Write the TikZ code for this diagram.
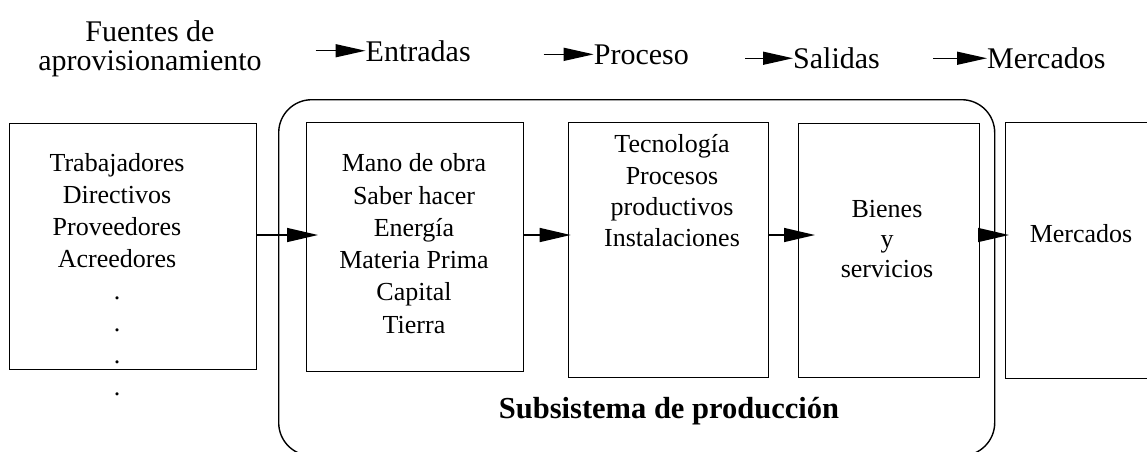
\documentclass[tikz,border=0pt]{standalone}
\usepackage{fontspec}
\setmainfont{Liberation Serif}
\usetikzlibrary{arrows.meta,calc}
\begin{document}
\begin{tikzpicture}[x=1pt,y=-1pt,
  boxsty/.style={draw,line width=1.4pt,inner sep=0pt,anchor=north west},
  txt/.style={font=\fontsize{26}{32}\selectfont,align=center,inner sep=0pt,anchor=base},
  head/.style={font=\fontsize{30}{29}\selectfont,inner sep=0pt,anchor=base west},
  arr/.style={line width=1.4pt,-{Triangle[length=31pt,width=14pt]}},
  harr/.style={line width=1.4pt,-{Triangle[length=30pt,width=13pt]}}]
\useasboundingbox (0,0) rectangle (1147,451);

% header
\node[font=\fontsize{30}{29}\selectfont,align=center,inner sep=0pt,anchor=base] (fu) at (150,70.3) {Fuentes de\\aprovisionamiento};
\node[head] (en) at (365.5,61) {Entradas};
\node[head] (pr) at (593.7,64) {Proceso};
\node[head] (sa) at (793,68.5) {Salidas};
\node[head] (me) at (987,68.5) {Mercados};
\draw[harr] ([xshift=-50pt]en.west) -- (en.west);
\draw[harr] ([xshift=-50pt]pr.west) -- (pr.west);
\draw[harr] ([xshift=-48pt]sa.west) -- (sa.west);
\draw[harr] ([xshift=-54pt]me.west) -- (me.west);

% subsystem frame (its bottom edge lies just below the picture)
\node[boxsty,rounded corners=33pt,minimum width=716pt,minimum height=356pt] (sub) at (278,99) {};
\node[font=\bfseries\fontsize{30.5}{36}\selectfont,inner sep=0pt,anchor=base] (subl) at (669,418) {Subsistema de producción};

% boxes
\node[boxsty,minimum width=247pt,minimum height=246pt] (b1) at (9,123) {};
\node[boxsty,minimum width=217pt,minimum height=249pt] (b2) at (306,122) {};
\node[boxsty,minimum width=200pt,minimum height=255pt] (b3) at (568,122) {};
\node[boxsty,minimum width=181pt,minimum height=254pt] (b4) at (798,123) {};
\node[boxsty,minimum width=200pt,minimum height=256pt] (b5) at (1005,122) {};

% texts (anchor = baseline of the last line)
\node[txt] (t1) at (117,395) {Trabajadores\\Directivos\\Proveedores\\Acreedores\\.\\.\\.\\.};
\node[txt,font=\fontsize{26}{32.3}\selectfont] (t2) at (414,333.2) {Mano de obra\\Saber hacer\\Energía\\Materia Prima\\Capital\\Tierra};
\node[txt,font=\fontsize{26}{31.3}\selectfont] (t3) at (672,246.6) {Tecnología\\Procesos\\productivos\\Instalaciones};
\node[txt,font=\fontsize{26}{30}\selectfont] (t4) at (887,277.7) {Bienes\\y\\servicios};
\node[txt] (t5) at (1081,242.7) {Mercados};

% connectors
\coordinate (ay) at (0,235);
\draw[arr] (b1.east |- ay) -- ([xshift=12pt]b2.west |- ay);
\draw[arr] (b2.east |- ay) -- ([xshift=2.7pt]b3.west |- ay);
\draw[arr] (b3.east |- ay) -- ([xshift=17pt]b4.west |- ay);
\draw[arr] (b4.east |- ay) -- ([xshift=4pt]b5.west |- ay);
\end{tikzpicture}
\end{document}
